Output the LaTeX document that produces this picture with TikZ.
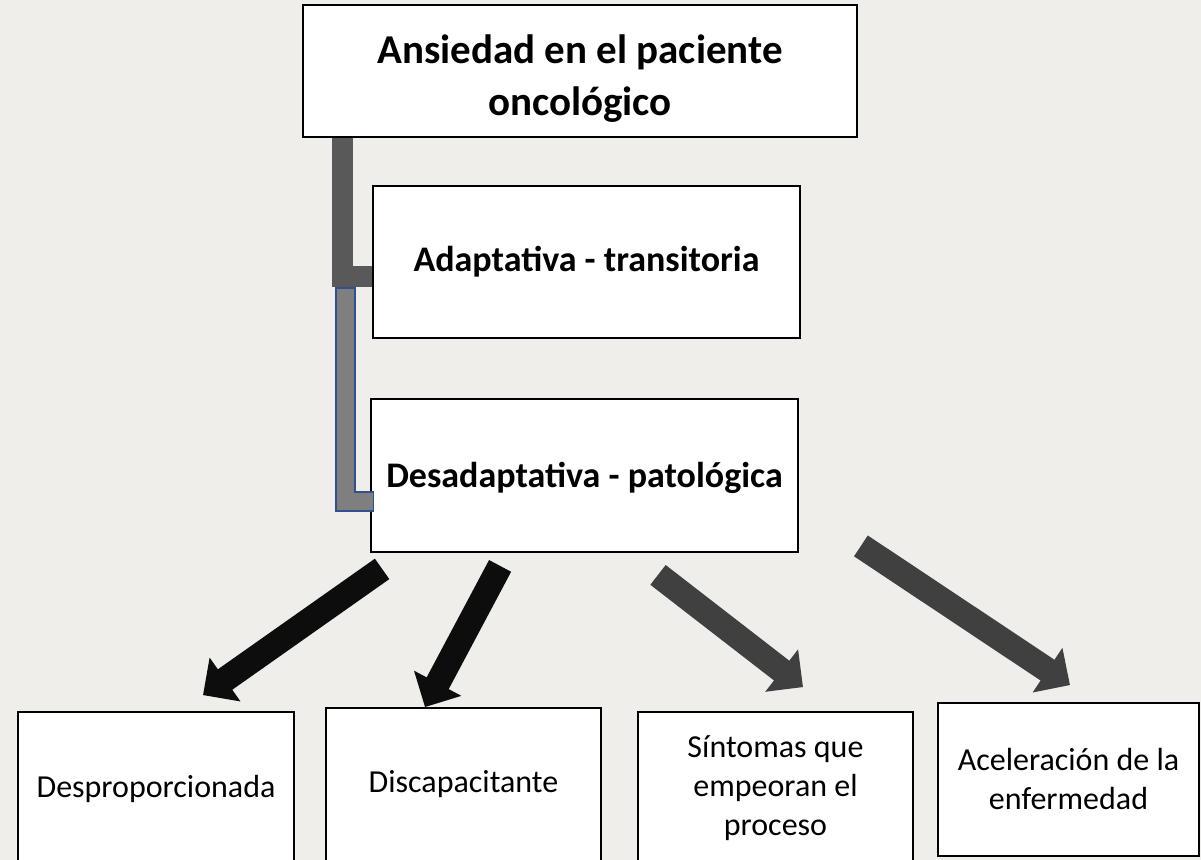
\documentclass[tikz,border=0pt]{standalone}
\usepackage{fontspec}
\setmainfont{Carlito}
\usetikzlibrary{positioning,calc,arrows.meta}

\definecolor{fondo}{RGB}{239,238,234}
\definecolor{flechanegra}{RGB}{13,13,13}
\definecolor{flechagris}{RGB}{64,64,64}
\definecolor{conector}{RGB}{89,89,89}
\definecolor{conectorclaro}{RGB}{127,127,127}
\definecolor{bordeazul}{RGB}{47,82,143}

\begin{document}
\begin{tikzpicture}[x=0.5pt, y=-0.5pt,
    every node/.style={draw=black, line width=0.9pt, fill=white, text=black, align=center, inner sep=0pt},
    titulo/.style={font=\bfseries\fontsize{20.5}{26}\selectfont},
    cajabold/.style={font=\bfseries\fontsize{18}{22}\selectfont, minimum width=213.5pt},
    caja/.style={font=\fontsize{16}{19.5}\selectfont, minimum height=76.5pt},
    flecha/.style={line width=12.5pt, -{Triangle[width=26pt, length=13.5pt]}},
    ]
  \clip (0,0) rectangle (1201,860);
  \fill[fondo] (0,0) rectangle (1201,860);

  \node[titulo, minimum width=277pt, minimum height=66pt] (ansiedad) at (580,71) {\rule{0pt}{22pt}Ansiedad en el paciente\\oncológico};
  \node[cajabold, minimum height=76pt] (adaptativa) at (586.5,262) {Adaptativa - transitoria};
  \node[cajabold, minimum height=76.5pt] (desadaptativa) at (584.5,475.5) {\rule{0pt}{15pt}Desadaptativa - patológica};

  \node[caja, minimum width=138pt] (desproporcionada) at (156,788.5) {Desproporcionada};
  \node[caja, minimum width=137.5pt] (discapacitante) at (463.5,784.5) {Discapacitante};
  \node[caja, minimum width=137.5pt] (sintomas) at (775.5,788.5) {Síntomas que\\empeoran el\\proceso};
  \node[caja, minimum width=130.5pt] (aceleracion) at (1068.5,779.5) {Aceleración de la\\enfermedad};

  % conectores en L
  \draw[conector, line width=10.5pt] ($(ansiedad.south west)+(40.5,0)$) |- ($(adaptativa.west)+(0,15)$);
  \coordinate (codo) at (336,288);
  \filldraw[fill=conectorclaro, draw=bordeazul, line width=0.6pt] (codo) -- ++(19,0) |- ($(desadaptativa.west)+(3,16.5)$) -- ++(0,19) -| (codo) -- cycle;

  % flechas
  \draw[flecha, flechanegra] ($(desadaptativa.south west)+(12,16)$) -- ($(desproporcionada.north)+(47,-16)$);
  \draw[flecha, flechanegra] ($(desadaptativa.south west)+(130,13)$) -- ($(discapacitante.north)+(-38.5,0)$);
  \draw[flecha, flechagris] ($(desadaptativa.south)+(73.5,22)$) -- ($(sintomas.north)+(27.5,-24)$);
  \draw[flecha, flechagris] ($(desadaptativa.south east)+(62,-7)$) -- ($(aceleracion.north)+(1.5,-17)$);
\end{tikzpicture}
\end{document}
